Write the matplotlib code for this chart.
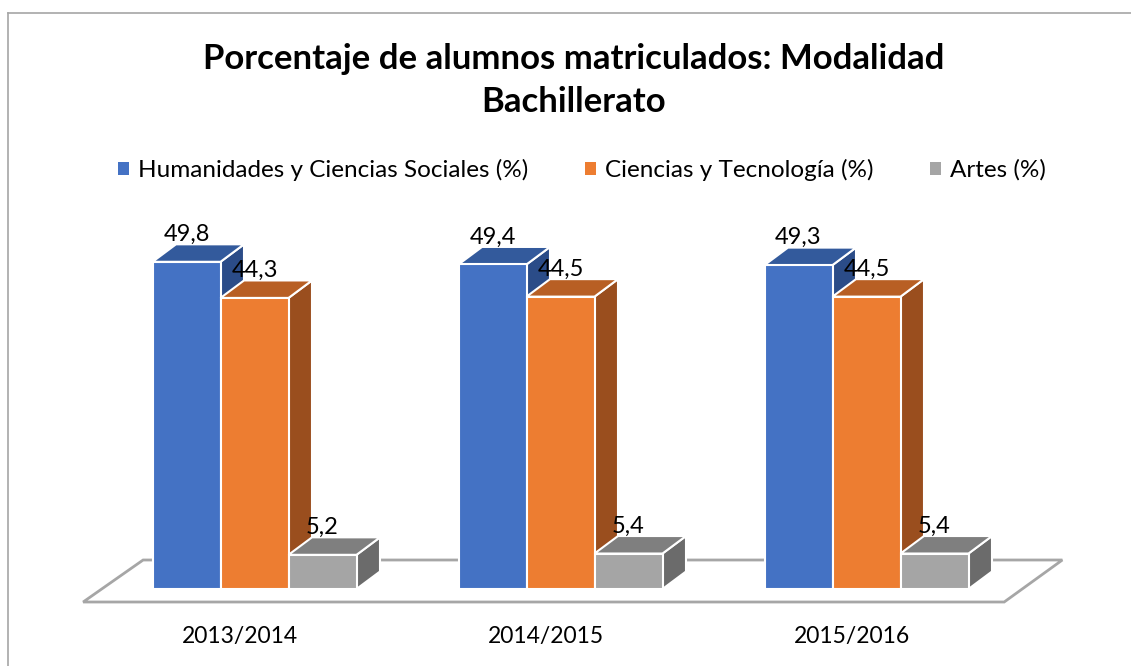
import matplotlib.pyplot as plt
import matplotlib.patches as mpatches
from matplotlib.patches import Polygon
import numpy as np

plt.rcParams['font.family'] = ['Lato', 'DejaVu Sans']

years = ['2013/2014', '2014/2015', '2015/2016']
series_names = ['Humanidades y Ciencias Sociales (%)', 'Ciencias y Tecnología (%)', 'Artes (%)']
humanidades = [49.8, 49.4, 49.3]
ciencias = [44.3, 44.5, 44.5]
artes = [5.2, 5.4, 5.4]

front_colors = ['#4472C4', '#ED7D31', '#A5A5A5']
top_colors = ['#335A9C', '#B85F24', '#7F7F7F']
side_colors = ['#2B4C88', '#9A4E1E', '#6B6B6B']

W, H = 1131, 666
fig = plt.figure(figsize=(W / 100, H / 100), dpi=100)
ax = fig.add_axes([0, 0, 1, 1])

# pixel -> data mapping (category spacing 306 px, 6.57 px per percent)
px_x, px_y = 306.0, 6.57
x0_px, base_px = 254.5, 589.0
ax.set_xlim(-x0_px / px_x, (W - x0_px) / px_x)
ax.set_ylim(-(H - base_px) / px_y, base_px / px_y)
ax.axis('off')

# depth of the fake 3d boxes
dx = 23.5 / px_x
dy = 17.5 / px_y
width = 68.0 / px_x

x = np.arange(len(years))

# floor
floor_front = (-0.56, x[-1] + 0.45, -13 / px_y)
floor_back = (-0.364, x[-1] + 0.64, 29 / px_y)
floor = Polygon([(floor_front[0], floor_front[2]), (floor_front[1], floor_front[2]),
                 (floor_back[1], floor_back[2]), (floor_back[0], floor_back[2])],
                closed=True, facecolor='white', edgecolor='#A6A6A6', linewidth=2, zorder=1)
ax.add_patch(floor)

all_series = [humanidades, ciencias, artes]
offsets = [-width, 0, width]

for i in range(len(years)):
    for s, vals in enumerate(all_series):
        z = 2 + i * 10 + s * 3
        bars = ax.bar(x[i] + offsets[s], vals[i], width, color=front_colors[s],
                      edgecolor='white', linewidth=1.5, zorder=z + 2)
        r = bars[0]
        bx0 = r.get_x()
        bx1 = bx0 + r.get_width()
        h = r.get_height()
        top = Polygon([(bx0, h), (bx1, h), (bx1 + dx, h + dy), (bx0 + dx, h + dy)],
                      closed=True, facecolor=top_colors[s], edgecolor='white', linewidth=1.5, zorder=z + 1)
        side = Polygon([(bx1, 0), (bx1, h), (bx1 + dx, h + dy), (bx1 + dx, dy)],
                       closed=True, facecolor=side_colors[s], edgecolor='white', linewidth=1.5, zorder=z)
        ax.add_patch(side)
        ax.add_patch(top)
        ax.text(bx0 + width / 2, h + dy - 0.1, f'{vals[i]:.1f}'.replace('.', ','),
                ha='center', va='bottom', fontsize=17, color='black', zorder=50)

# category labels
for i, yr in enumerate(years):
    ax.text(x[i] - 0.047, -48 / px_y, yr, ha='center', va='center', fontsize=16.5, color='black')

# title
fig.text(574 / W, 1 - 80.5 / H, 'Porcentaje de alumnos matriculados: Modalidad\nBachillerato',
         ha='center', va='center', fontsize=25, fontweight='bold', linespacing=1.4)

# legend
handles = [mpatches.Patch(facecolor=c, edgecolor='none') for c in front_colors]
fig.legend(handles, series_names, loc='center', bbox_to_anchor=(582 / W, 1 - 170 / H),
           ncol=3, frameon=False, fontsize=17.5, handlelength=0.45, handleheight=0.45,
           handletextpad=0.4, columnspacing=2.3)

# chart border (left and top visible)
fig.add_artist(plt.Line2D([8 / W, 8 / W], [0, 1 - 13 / H], color='#A6A6A6', linewidth=1.2))
fig.add_artist(plt.Line2D([8 / W, 1], [1 - 13 / H, 1 - 13 / H], color='#A6A6A6', linewidth=1.2))

fig.savefig('out.png', dpi=100)
